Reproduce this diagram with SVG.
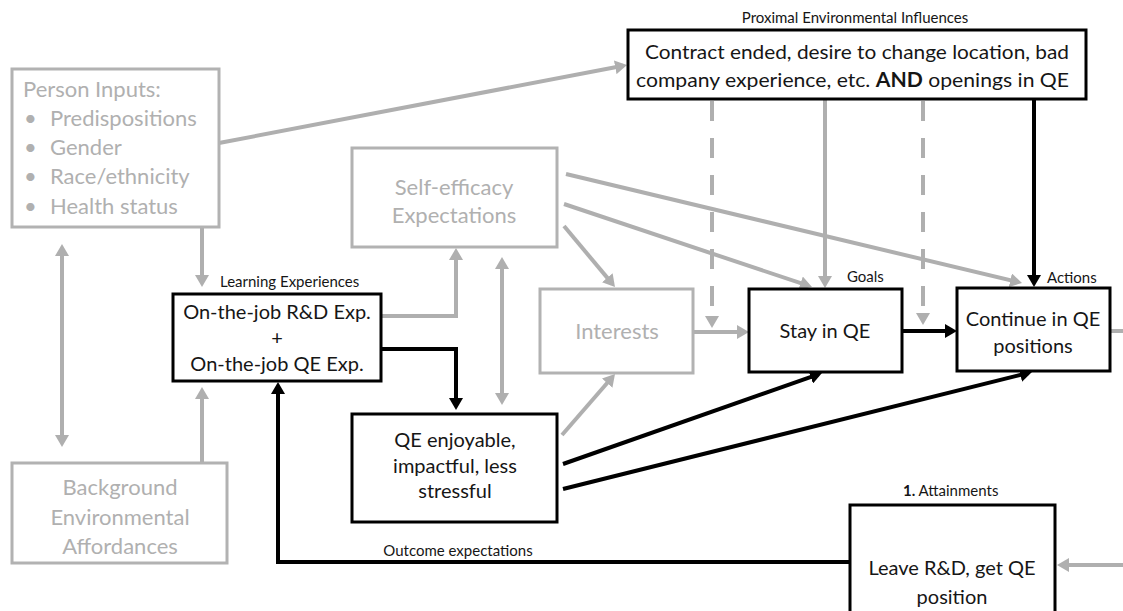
<svg xmlns="http://www.w3.org/2000/svg" width="1123" height="611" viewBox="0 0 1123 611">
  <style>
    .gbox { fill: #ffffff; stroke: #b2b2b2; stroke-width: 3; }
    .kbox { fill: #ffffff; stroke: #000000; stroke-width: 3; }
    .gtxt { font-family: Lato, "Open Sans", "Liberation Sans", sans-serif; font-size: 22px; fill: #b0b0b0; }
    .ktxt { font-family: Lato, "Open Sans", "Liberation Sans", sans-serif; font-size: 20px; fill: #161616; }
    .lbl { font-family: Lato, "Open Sans", "Liberation Sans", sans-serif; font-size: 15px; fill: #161616; }
    .mid { text-anchor: middle; }
    .g { fill: none; stroke: #afafaf; stroke-width: 4; }
    .k { fill: none; stroke: #000000; stroke-width: 4; }
    .dash { stroke-dasharray: 20 17; }
    .ga { marker-end: url(#ahG); }
    .ka { marker-end: url(#ahK); }
    .gd { marker-start: url(#ahG); marker-end: url(#ahG); }
  </style>
  <defs>
    <marker id="ahG" viewBox="0 0 12 14" refX="8" refY="7" markerWidth="12" markerHeight="14" markerUnits="userSpaceOnUse" orient="auto-start-reverse">
      <path d="M0,0 L12,7 L0,14 z" fill="#afafaf"/>
    </marker>
    <marker id="ahK" viewBox="0 0 12 14" refX="8" refY="7" markerWidth="12" markerHeight="14" markerUnits="userSpaceOnUse" orient="auto-start-reverse">
      <path d="M0,0 L12,7 L0,14 z" fill="#000000"/>
    </marker>
  </defs>

  <rect width="1123" height="611" fill="#ffffff"/>

  <!-- connectors -->
  <g id="connectors">
    <!-- person inputs -->
    <line class="g ga" x1="219" y1="143" x2="623.1" y2="65.8"/>
    <line class="g ga" x1="202" y1="227" x2="202" y2="283"/>
    <line class="g gd" x1="62" y1="248" x2="62" y2="443"/>
    <!-- background affordances -->
    <line class="g ga" x1="202" y1="463" x2="202" y2="391"/>
    <!-- learning experiences -->
    <path class="g ga" d="M381,316 H456 V252"/>
    <path class="k ka" d="M381,349 H456 V406"/>
    <!-- self-efficacy -->
    <line class="g gd" x1="502" y1="261" x2="502" y2="401"/>
    <line class="g ga" x1="566" y1="174" x2="1018.1" y2="282.1"/>
    <line class="g ga" x1="564" y1="204" x2="808.2" y2="285.7"/>
    <line class="g ga" x1="564" y1="226" x2="612.4" y2="283.9"/>
    <!-- outcome expectations -->
    <line class="g ga" x1="562" y1="435" x2="612.4" y2="377"/>
    <line class="k ka" x1="563" y1="464" x2="818.2" y2="374.3"/>
    <line class="k ka" x1="563" y1="489" x2="1028.1" y2="373"/>
    <!-- interests -->
    <line class="g ga" x1="693" y1="332" x2="745" y2="332"/>
    <!-- proximal influences -->
    <line class="g dash ga" x1="712" y1="101" x2="712" y2="324"/>
    <line class="g ga" x1="825" y1="99" x2="825" y2="284"/>
    <line class="g dash ga" x1="923" y1="101" x2="923" y2="321"/>
    <line class="k ka" x1="1034" y1="99" x2="1034" y2="283"/>
    <!-- goals to actions -->
    <line class="k ka" x1="902" y1="331" x2="953" y2="331"/>
    <line class="g" x1="1110" y1="331" x2="1123" y2="331"/>
    <!-- attainments -->
    <path class="k ka" d="M850,562 H278 V386"/>
    <line class="g ga" x1="1123" y1="565" x2="1061" y2="565"/>
  </g>

  <!-- nodes -->
  <g id="person-inputs">
    <rect class="gbox" x="12" y="69" width="207" height="158"/>
    <text class="gtxt" x="23" y="97">Person Inputs:</text>
    <text class="gtxt" x="24" y="126">•</text>
    <text class="gtxt" x="50" y="126">Predispositions</text>
    <text class="gtxt" x="24" y="155">•</text>
    <text class="gtxt" x="50" y="155">Gender</text>
    <text class="gtxt" x="24" y="184">•</text>
    <text class="gtxt" x="50" y="184">Race/ethnicity</text>
    <text class="gtxt" x="24" y="214">•</text>
    <text class="gtxt" x="50" y="214">Health status</text>
  </g>

  <g id="background-affordances">
    <rect class="gbox" x="12" y="463" width="215" height="100"/>
    <text class="gtxt mid" x="120" y="495">Background</text>
    <text class="gtxt mid" x="120" y="525">Environmental</text>
    <text class="gtxt mid" x="120" y="554">Affordances</text>
  </g>

  <g id="learning-experiences">
    <text class="lbl" x="220" y="287">Learning Experiences</text>
    <rect class="kbox" x="173" y="294" width="208" height="87"/>
    <text class="ktxt mid" x="277" y="319">On-the-job R&amp;D Exp.</text>
    <text class="ktxt mid" x="277" y="345">+</text>
    <text class="ktxt mid" x="277" y="371">On-the-job QE Exp.</text>
  </g>

  <g id="self-efficacy">
    <rect class="gbox" x="352" y="148" width="205" height="99"/>
    <text class="gtxt mid" x="454" y="195">Self-efficacy</text>
    <text class="gtxt mid" x="454" y="223">Expectations</text>
  </g>

  <g id="outcome-expectations">
    <rect class="kbox" x="352" y="414" width="205" height="108"/>
    <text class="ktxt mid" x="455" y="447">QE enjoyable,</text>
    <text class="ktxt mid" x="455" y="473">impactful, less</text>
    <text class="ktxt mid" x="455" y="498">stressful</text>
    <text class="lbl mid" x="458" y="556">Outcome expectations</text>
  </g>

  <g id="interests">
    <rect class="gbox" x="540" y="289" width="153" height="84"/>
    <text class="gtxt mid" x="617" y="339">Interests</text>
  </g>

  <g id="proximal-influences">
    <text class="lbl mid" x="855" y="23">Proximal Environmental Influences</text>
    <rect class="kbox" x="628" y="30" width="458" height="69"/>
    <text class="ktxt" x="645" y="59" textLength="424" lengthAdjust="spacingAndGlyphs">Contract ended, desire to change location, bad</text>
    <text class="ktxt" x="636" y="87" textLength="433" lengthAdjust="spacingAndGlyphs">company experience, etc.  <tspan font-weight="bold">AND</tspan> openings in QE</text>
  </g>

  <g id="goals">
    <text class="lbl" x="847" y="282">Goals</text>
    <rect class="kbox" x="749" y="289" width="153" height="83"/>
    <text class="ktxt mid" x="825" y="338">Stay in QE</text>
  </g>

  <g id="actions">
    <text class="lbl" x="1047" y="283">Actions</text>
    <rect class="kbox" x="957" y="288" width="153" height="83"/>
    <text class="ktxt mid" x="1033" y="326">Continue in QE</text>
    <text class="ktxt mid" x="1033" y="353">positions</text>
  </g>

  <g id="attainments">
    <text class="lbl" x="903" y="496"><tspan font-weight="bold">1.</tspan> Attainments</text>
    <rect class="kbox" x="850" y="505" width="205" height="120"/>
    <text class="ktxt mid" x="952" y="575">Leave R&amp;D, get QE</text>
    <text class="ktxt mid" x="952" y="604">position</text>
  </g>
</svg>
